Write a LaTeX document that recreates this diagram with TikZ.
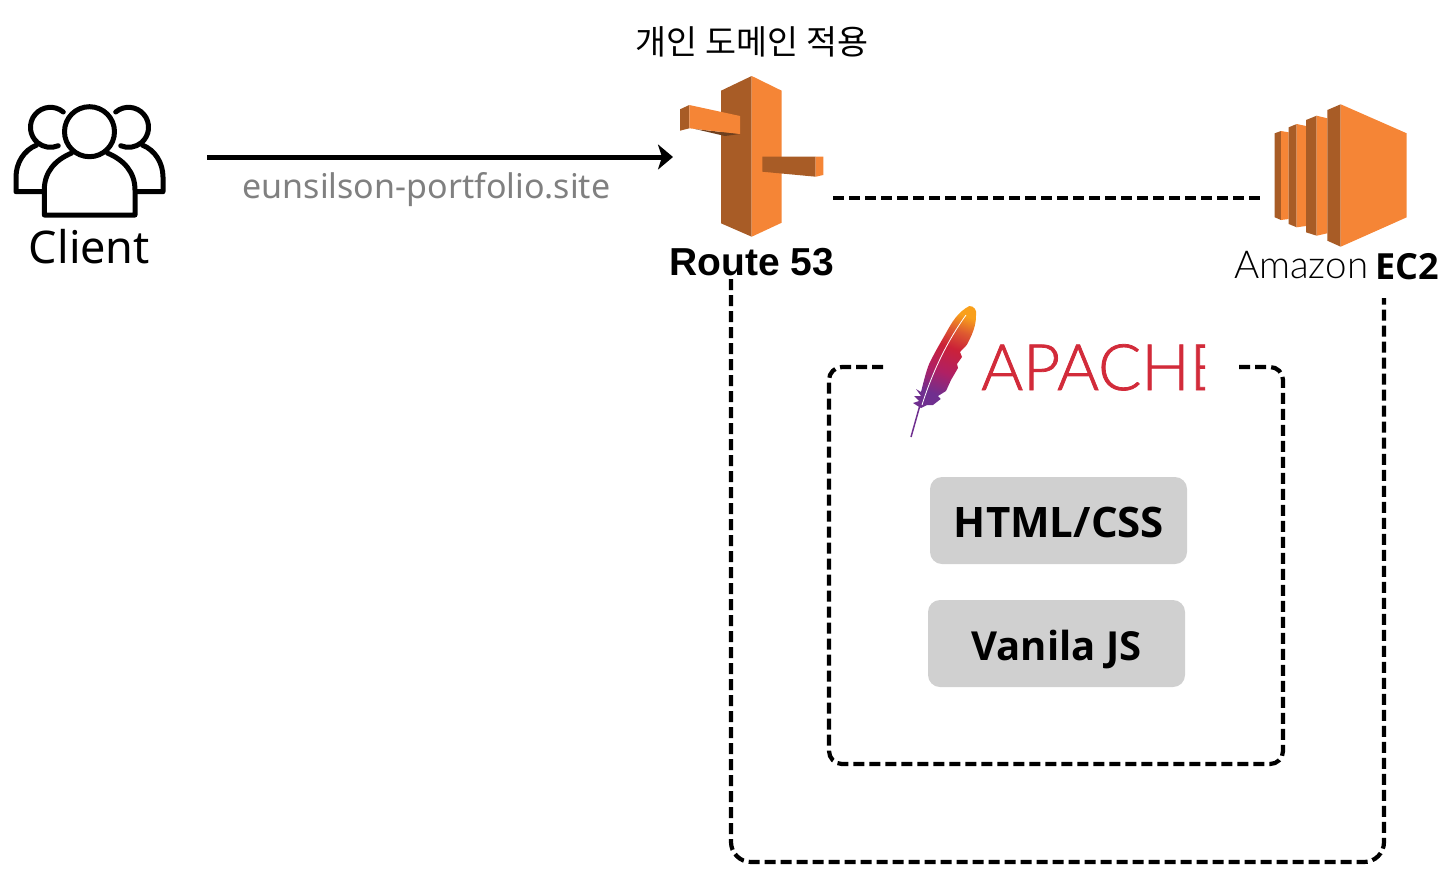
\documentclass[tikz,border=0pt]{standalone}
\usepackage{fontspec}
\setmainfont{Noto Sans}
\newfontfamily\korfont{Noto Sans CJK KR}
\newfontfamily\routefont{Liberation Sans}
\newfontfamily\latofont{Lato Light}
\newfontfamily\apachefont{Lato Light}[FakeBold=1.2]
\newfontfamily\techfont{Open Sans}
\usetikzlibrary{arrows.meta}
\definecolor{awslight}{HTML}{F58536}
\definecolor{awsdark}{HTML}{A85C26}
\definecolor{awsshade}{HTML}{6E3F1E}
\definecolor{apachered}{HTML}{D22B3A}
\definecolor{boxgrey}{HTML}{D0D0D0}
\definecolor{quillpurple}{HTML}{6F2F8F}
\definecolor{feathermagenta}{HTML}{B02064}
\definecolor{feathercrimson}{HTML}{CB2138}
\definecolor{featherflame}{HTML}{DE5A30}
\definecolor{feathergold}{HTML}{F9A01B}
\pgfdeclareverticalshading{feathershade}{100bp}{
  color(0bp)=(quillpurple);
  color(29bp)=(quillpurple);
  color(42bp)=(feathermagenta);
  color(56bp)=(feathercrimson);
  color(66bp)=(featherflame);
  color(75bp)=(feathergold);
  color(100bp)=(feathergold)}
\tikzset{
  lightface/.style={fill=awslight,draw=none},
  darkface/.style={fill=awsdark,draw=none},
  usericon/.style={line width=5pt,line join=round,line cap=round},
  dashline/.style={line width=4.2pt,dash pattern=on 11pt off 5pt},
  techbox/.style={fill=boxgrey,rounded corners=12pt,minimum width=257pt,minimum height=87pt,inner sep=0pt},
  techlabel/.style={inner sep=0pt,anchor=base,font=\fontsize{40}{44}\selectfont\techfont\bfseries},
  plainlabel/.style={inner sep=0pt,anchor=base}
}
\begin{document}
\begin{tikzpicture}[x=1pt,y=-1pt]
\useasboundingbox (0,0) rectangle (1445,887);
\draw[usericon] (63.3,112) arc[start angle=-50,end angle=-293,radius=20];
\draw[usericon] (115.7,112) arc[start angle=-130,end angle=113,radius=20];
\draw[usericon] (36.7,145) .. controls (24,150) and (16,163) .. (16,177) -- (16,191.7) -- (43,191.7);
\draw[usericon] (142.3,145) .. controls (155,150) and (163,163) .. (163,177) -- (163,191.7) -- (136,191.7);
\draw[usericon,fill=white] (71.7,153) .. controls (55,160) and (44.3,172) .. (44.3,190) -- (44.3,215) -- (135,215) -- (135,190) .. controls (135,172) and (124,160) .. (107.3,153);
\draw[usericon,fill=white] (89.5,131.7) circle (25);
\node[plainlabel,font=\fontsize{45}{50}\selectfont] (client) at (89.5,263) {Client};

\coordinate (arrowstart) at (207,157);
\coordinate (arrowend) at (673,157);
\draw[line width=5pt,-{Stealth[length=15pt,width=25pt,inset=4pt]}] (arrowstart) -- (arrowend);
\node[plainlabel,text=black!50,font=\fontsize{34}{38}\selectfont] (domain) at (426.5,198) {eunsilson-portfolio.site};
\node[plainlabel,font=\fontsize{33.7}{38}\selectfont\korfont] (custom) at (752,54) {개인 도메인 적용};

\fill[darkface] (751.7,76) -- (721,90.7) -- (721,223.3) -- (751.7,236.7) -- cycle;
\fill[lightface] (751.7,76) -- (781.7,90.7) -- (781.7,222.7) -- (751.7,236.7) -- cycle;
\fill[awsshade] (695,129) -- (740,134) -- (725,136) -- cycle;
\fill[darkface] (680,109.3) -- (689.3,105) -- (689.3,128.3) -- (680,130.7) -- cycle;
\fill[lightface] (689.3,105) -- (740,116) -- (740,134) -- (689.3,128.3) -- cycle;
\fill[darkface] (762.3,156.7) -- (815.7,156.7) -- (815.7,176.7) -- (762.3,171.7) -- cycle;
\fill[lightface] (815.7,156.7) -- (823.3,156.7) -- (823.3,175) -- (815.7,176.7) -- cycle;
\node[plainlabel,font=\fontsize{39}{42}\selectfont\routefont\bfseries] (route) at (752,275) {Route 53};

\fill[darkface] (1274.7,133.3) -- (1281,131) -- (1281,220) -- (1274.7,217.3) -- cycle;
\fill[lightface] (1281,131) -- (1288.7,132.3) -- (1288.7,219) -- (1281,220) -- cycle;
\fill[darkface] (1288.7,127.3) -- (1296.7,124) -- (1296.7,227.3) -- (1288.7,224) -- cycle;
\fill[lightface] (1296.7,124) -- (1306,126) -- (1306,226) -- (1296.7,227.3) -- cycle;
\fill[darkface] (1306,120) -- (1316.7,115.7) -- (1316.7,235.7) -- (1306,232.3) -- cycle;
\fill[lightface] (1316.7,115.7) -- (1327.3,118.3) -- (1327.3,233.3) -- (1316.7,235.7) -- cycle;
\fill[darkface] (1327.3,110) -- (1340.7,104.3) -- (1340.7,246.7) -- (1327.3,240.7) -- cycle;
\fill[lightface] (1340.7,104.3) -- (1406.7,133.3) -- (1406.7,217.3) -- (1340.7,246.7) -- cycle;
\node[plainlabel,anchor=base west,font=\fontsize{38.5}{40}\selectfont\latofont] (amazon) at (1234,278) {Amazon};
\node[plainlabel,anchor=base west,font=\fontsize{36}{40}\selectfont\techfont\bfseries] (ectwo) at (1375,279) {EC2};

\coordinate (routeright) at (833,198);
\coordinate (ectwoleft) at (1260,198);
\draw[dashline] (routeright) -- (ectwoleft);

\coordinate (outerstart) at (731,279);
\coordinate (outerleft) at (731,862);
\coordinate (outerright) at (1384,862);
\coordinate (outerend) at (1384,298);
\draw[dashline,rounded corners=20pt] (outerstart) -- (outerleft) -- (outerright) -- (outerend);

\coordinate (innerstart) at (883,367);
\coordinate (innertl) at (829,367);
\coordinate (innerbl) at (829,764);
\coordinate (innerbr) at (1283,764);
\coordinate (innertr) at (1283,367);
\coordinate (innerend) at (1238,367);
\draw[dashline,rounded corners=13pt] (innerstart) -- (innertl) -- (innerbl) -- (innerbr) -- (innertr) -- (innerend);

\begin{scope}
\clip (975,330) rectangle (1205,400);
\node[plainlabel,anchor=base west,text=apachered,font=\fontsize{64}{68}\selectfont\apachefont] (apache) at (981,390) {APACHE};
\end{scope}
\draw[line width=1.5pt,color=quillpurple] (922,398) -- (911,437);
\path[shading=feathershade,shading angle=-20]
  (969.3,306) .. controls (974,306) and (977,310) .. (976,315) .. controls (976,322) and (975,330) .. (966.7,345)
  -- (960,352) -- (962,357) -- (957,364) -- (958,368) -- (951,380) -- (946,391) -- (938,396) -- (940.7,399) -- (933,405) -- (927,405)
  -- (921,408) -- (913,403) -- (919,401) -- (914,396) -- (921,396) -- (916,389) -- (921,392)
  .. controls (924,380) and (927,368) .. (930,362) .. controls (936,350) and (942,340) .. (946.7,331.7) .. controls (952,322) and (958,312) .. (969.3,306) -- cycle;
\draw[white,line width=0.8pt] (966,315) .. controls (948,340) and (933,370) .. (922,405);

\node[techbox] (html) at (1058.5,520.5) {};
\node[techlabel,font=\fontsize{42}{44}\selectfont\techfont\bfseries] (htmltext) at (1059,537) {HTML/CSS};
\node[techbox] (vanila) at (1056.5,643.5) {};
\node[techlabel] (vanilatext) at (1056.5,660) {Vanila JS};
\end{tikzpicture}
\end{document}
